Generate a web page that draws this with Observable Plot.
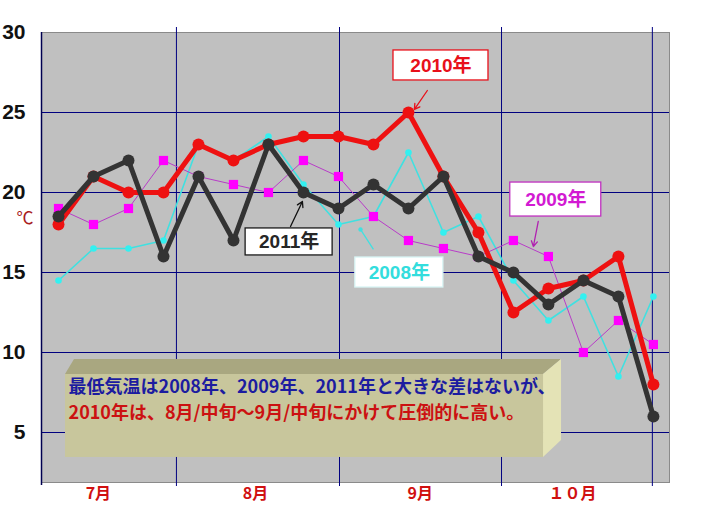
<!DOCTYPE html>
<html>
<head>
<meta charset="utf-8">
<script src="https://cdn.jsdelivr.net/npm/d3@7"></script>
<script src="https://cdn.jsdelivr.net/npm/@observablehq/plot@0.6"></script>
<style>
  html, body { margin: 0; padding: 0; background: #ffffff; }
  #chart svg { display: block; }
</style>
</head>
<body>
<div id="chart"></div>
<script>
// ---- data (18 observation points, July–October) ----
const pointIndex = d3.range(18);
const temp2008 = [14.5, 16.5, 16.5, 17, 23, 22, 23.5, 20.5, 18, 18.5, 22.5, 17.5, 18.5, 14.5, 12, 13.5, 8.5, 13.5];
const temp2009 = [19, 18, 19, 22, 21, 20.5, 20, 22, 21, 18.5, 17, 16.5, 16, 17, 16, 10, 12, 10.5];
const temp2010 = [18, 21, 20, 20, 23, 22, 23, 23.5, 23.5, 23, 25, 21, 17.5, 12.5, 14, 14.5, 16, 8];
const temp2011 = [18.5, 21, 22, 16, 21, 17, 23, 20, 19, 20.5, 19, 21, 16, 15, 13, 14.5, 13.5, 6];

// ---- ticks / labels ----
const yTicks = [5, 10, 15, 20, 25, 30];
const yGrid = [5, 10, 15, 20, 25];
const monthBounds = [3.37, 8.03, 12.66, 16.97];
const monthLabels = ["7月", "8月", "9月", "１０月"];
const monthLabelPos = [1.14, 5.63, 10.34, 14.69];

// ---- annotations (in data units) ----
const callouts = [
  {label: "2010年", x: 10.93, y: 27.94, color: "#e8101a", border: "#e8101a", w: 95, h: 30},
  {label: "2011年", x: 6.59, y: 16.91, color: "#262626", border: "#1a1a1a", w: 87, h: 27},
  {label: "2008年", x: 9.74, y: 15.0, color: "#33dddd", border: "#d8f4f4", w: 88, h: 30},
  {label: "2009年", x: 14.21, y: 19.56, color: "#d21ad2", border: "#c030c0", w: 91, h: 34}
];
const arrows = [
  {x1: 10.54, y1: 26.375, x2: 10.17, y2: 25.19, color: "#e8101a"},
  {x1: 6.63, y1: 17.875, x2: 6.97, y2: 19.44, color: "#111111"},
  {x1: 13.71, y1: 18.19, x2: 13.57, y2: 16.625, color: "#b020b0"}
];
const leader2008 = [{x1: 9.0, y1: 16.44, x2: 8.63, y2: 17.69}];
const noteBox = {x1: 0.2, x2: 13.86, y1: 8.625, y2: 3.44};
const noteLines = [
  {text: "最低気温は2008年、2009年、2011年と大きな差はないが、", y: 7.85, color: "#1c1ca0"},
  {text: "2010年は、8月/中旬～9月/中旬にかけて圧倒的に高い。", y: 6.2, color: "#cc1111"}
];

const rows = (arr) => pointIndex.map(i => ({i, v: arr[i]}));
const d2008 = rows(temp2008), d2009 = rows(temp2009), d2010 = rows(temp2010), d2011 = rows(temp2011);

const box3d = (index, scales) => {
  const x1 = scales.x(noteBox.x1), x2 = scales.x(noteBox.x2);
  const yt = scales.y(noteBox.y1), yb = scales.y(noteBox.y2);
  const g = d3.create("svg:g");
  g.append("path")
    .attr("d", `M${x1},${yt}L${x1 + 9},${yt - 15}L${x2 + 18},${yt - 15}L${x2},${yt}Z`)
    .attr("fill", "#a9a780");
  g.append("path")
    .attr("d", `M${x2},${yt}L${x2 + 18},${yt - 15}L${x2 + 18},${yb - 17}L${x2},${yb}Z`)
    .attr("fill", "#e4e3b6");
  g.append("rect")
    .attr("x", x1).attr("y", yt).attr("width", x2 - x1).attr("height", yb - yt)
    .attr("fill", "#c8c69c");
  return g.node();
};

const calloutBoxes = (index, scales) => {
  const g = d3.create("svg:g");
  for (const c of callouts) {
    const cx = scales.x(c.x), cy = scales.y(c.y);
    g.append("rect")
      .attr("x", cx - c.w / 2).attr("y", cy - c.h / 2)
      .attr("width", c.w).attr("height", c.h)
      .attr("fill", "#ffffff").attr("stroke", c.border).attr("stroke-width", 1.3);
  }
  return g.node();
};

const font = "'Liberation Sans', 'Noto Sans CJK JP', sans-serif";

const chart = Plot.plot({
  width: 705,
  height: 515,
  marginLeft: 41,
  marginRight: 36,
  marginTop: 32,
  marginBottom: 33,
  style: {fontFamily: font, background: "#ffffff", overflow: "visible"},
  x: {type: "linear", domain: [-0.486, 17.46], axis: null},
  y: {domain: [1.875, 30], axis: null},
  marks: [
    Plot.frame({fill: "#c0c0c0", stroke: "#8a8a8a"}),
    Plot.ruleY(yGrid, {stroke: "#000080", strokeWidth: 1}),
    Plot.ruleX(monthBounds, {stroke: "#000080", strokeWidth: 1, insetTop: -5, insetBottom: -4}),
    Plot.ruleX([-0.486], {stroke: "#000050", strokeWidth: 1.5, insetBottom: -3}),
    // 2008
    Plot.line(d2008, {x: "i", y: "v", stroke: "#40e0e0", strokeWidth: 1.6}),
    Plot.dot(d2008, {x: "i", y: "v", r: 3.3, fill: "#33f0f0"}),
    // 2009
    Plot.line(d2009, {x: "i", y: "v", stroke: "#b83cc8", strokeWidth: 1}),
    Plot.dot(d2009, {x: "i", y: "v", symbol: "square", r: 5.2, fill: "#ff00ff"}),
    // 2010
    Plot.line(d2010, {x: "i", y: "v", stroke: "#ee1111", strokeWidth: 5}),
    Plot.dot(d2010, {x: "i", y: "v", r: 6, fill: "#ee1111"}),
    // 2011
    Plot.line(d2011, {x: "i", y: "v", stroke: "#333333", strokeWidth: 5}),
    Plot.dot(d2011, {x: "i", y: "v", r: 6, fill: "#333333"}),
    // note box
    box3d,
    Plot.text(noteLines, {
      x: noteBox.x1, y: "y", text: "text", fill: "color", textAnchor: "start", dx: 3,
      fontSize: 18, fontWeight: "bold", fontFamily: "'Noto Sans CJK JP', sans-serif"
    }),
    // callouts
    calloutBoxes,
    Plot.text(callouts, {
      x: "x", y: "y", text: "label", fill: "color",
      fontSize: 19, fontWeight: "bold", fontFamily: font
    }),
    Plot.arrow(arrows, {x1: "x1", y1: "y1", x2: "x2", y2: "y2", stroke: "color", strokeWidth: 1.3, headLength: 7}),
    Plot.link(leader2008, {x1: "x1", y1: "y1", x2: "x2", y2: "y2", stroke: "#40e0e0", strokeWidth: 1.3}),
    Plot.dot(leader2008, {x: "x2", y: "y2", r: 2.2, fill: "#40e0e0"}),
    // y tick labels
    Plot.text(yTicks, {
      y: d => d, frameAnchor: "left", dx: -16, textAnchor: "end",
      fontSize: 21, fontWeight: "bold", fill: "#111111", fontFamily: font
    }),
    Plot.text(["℃"], {
      y: 18.4, frameAnchor: "left", dx: -25, fontSize: 17, fill: "#a81c1c",
      fontFamily: "'Noto Sans CJK JP', sans-serif"
    }),
    // month labels
    Plot.text(monthLabels, {
      x: (d, i) => monthLabelPos[i], frameAnchor: "bottom", dy: 16,
      fontSize: 16, fontWeight: "bold", fill: "#d01010", fontFamily: "'Noto Sans CJK JP', sans-serif"
    })
  ]
});
document.getElementById("chart").appendChild(chart);
</script>
</body>
</html>
